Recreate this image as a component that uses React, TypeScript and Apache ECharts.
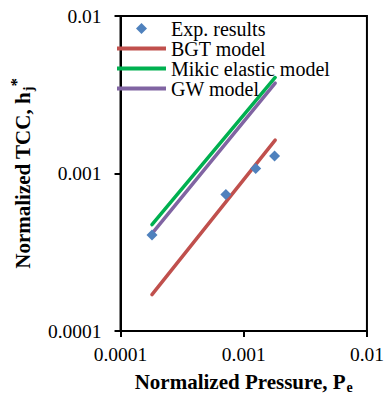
import React, { useEffect, useRef } from "react";
import * as echarts from "echarts";

const xTickLabels = ["0.0001", "0.001", "0.01"];
const yTickLabels = ["0.0001", "0.001", "0.01"];

const expPressure = [1.8e-4, 7.16e-4, 1.25e-3, 1.78e-3];
const expTCC = [4.07e-4, 7.35e-4, 1.076e-3, 1.29e-3];

const modelPressure = [1.8e-4, 1.8e-3];
const bgtTCC = [1.7e-4, 1.63e-3];
const mikicTCC = [4.74e-4, 4.07e-3];
const gwTCC = [4.15e-4, 3.75e-3];

const seriesNames = ["Exp. results", "BGT model", "Mikic elastic model", "GW model"];

const FONT = "'Liberation Serif', 'Times New Roman', serif";
const LINE_ICON = "path://M0,0 L49,0 L49,4 L0,4 Z";
const DIAMOND_ICON = "path://M5.5,0 L11,5.5 L5.5,11 L0,5.5 Z";

function pickLabel(labels: string[], v: number): string {
  let best = labels[0];
  let bd = Infinity;
  for (const l of labels) {
    const d = Math.abs(Math.log10(parseFloat(l)) - Math.log10(v));
    if (d < bd) {
      bd = d;
      best = l;
    }
  }
  return bd < 0.01 ? best : "";
}

const pairs = (xs: number[], ys: number[]) => xs.map((x, i) => [x, ys[i]]);

export default function App() {
  const ref = useRef<HTMLDivElement>(null);
  useEffect(() => {
    if (!ref.current) return;
    const chart = echarts.init(ref.current, null, { renderer: "svg" });
    const lineSeries = (name: string, ys: number[], color: string) => ({
      name,
      type: "line",
      data: pairs(modelPressure, ys),
      symbol: "none",
      showSymbol: false,
      lineStyle: { color, width: 3.5, cap: "round" },
      itemStyle: { color },
      z: 2,
    });
    chart.setOption({
      animation: false,
      backgroundColor: "#ffffff",
      grid: {
        left: 112,
        right: 16,
        top: 16,
        bottom: 70,
        show: true,
        borderColor: "#000",
        borderWidth: 2,
        backgroundColor: "transparent",
      },
      legend: {
        data: seriesNames.map((n, i) => ({ name: n, icon: i === 0 ? DIAMOND_ICON : LINE_ICON })),
        orient: "vertical",
        left: 117,
        top: 18.5,
        padding: 0,
        itemGap: 0,
        itemWidth: 49,
        itemHeight: 11,
        symbolKeepAspect: true,
        textStyle: { fontFamily: FONT, fontSize: 20, color: "#000", lineHeight: 19.3 },
      },
      xAxis: {
        type: "log",
        logBase: 10,
        min: 0.0001,
        max: 0.01,
        splitLine: { show: false },
        axisLine: { show: true, lineStyle: { color: "#000", width: 2 } },
        axisTick: { show: true, inside: false, length: 6, lineStyle: { color: "#000", width: 2 } },
        minorTick: { show: false },
        axisLabel: {
          margin: 13,
          fontFamily: FONT,
          fontSize: 19.5,
          color: "#000",
          formatter: (v: number) => pickLabel(xTickLabels, v),
        },
        name: "{a|Normalized Pressure, P}{b|e}",
        nameLocation: "middle",
        nameGap: 40,
        nameTextStyle: {
          rich: {
            a: { fontFamily: FONT, fontWeight: "bold", fontSize: 21, color: "#000", lineHeight: 21 },
            b: {
              fontFamily: FONT,
              fontWeight: "bold",
              fontSize: 14,
              color: "#000",
              lineHeight: 14,
              padding: [12, 0, 0, 1],
            },
          },
        },
      },
      yAxis: {
        type: "log",
        logBase: 10,
        min: 0.0001,
        max: 0.01,
        splitLine: { show: false },
        axisLine: { show: true, lineStyle: { color: "#000", width: 2 } },
        axisTick: { show: true, inside: false, length: 6, lineStyle: { color: "#000", width: 2 } },
        minorTick: { show: false },
        axisLabel: {
          margin: 19,
          fontFamily: FONT,
          fontSize: 19.5,
          color: "#000",
          formatter: (v: number) => pickLabel(yTickLabels, v),
        },
        name: "{a|Normalized TCC, h}{b|j}{c|*}",
        nameLocation: "middle",
        nameGap: 76,
        nameTextStyle: {
          rich: {
            a: { fontFamily: FONT, fontWeight: "bold", fontSize: 21, color: "#000", lineHeight: 21 },
            b: {
              fontFamily: FONT,
              fontWeight: "bold",
              fontSize: 14,
              color: "#000",
              lineHeight: 14,
              padding: [12, 0, 0, 1],
            },
            c: {
              fontFamily: FONT,
              fontWeight: "bold",
              fontSize: 17,
              color: "#000",
              lineHeight: 14,
              padding: [0, 0, 12, 0],
            },
          },
        },
      },
      series: [
        {
          name: seriesNames[0],
          type: "scatter",
          data: pairs(expPressure, expTCC),
          symbol: "diamond",
          symbolSize: 11,
          itemStyle: { color: "#4F81BD", opacity: 1 },
          z: 5,
        },
        lineSeries(seriesNames[1], bgtTCC, "#C0504D"),
        lineSeries(seriesNames[2], mikicTCC, "#00B050"),
        lineSeries(seriesNames[3], gwTCC, "#8064A2"),
      ],
    });
    return () => chart.dispose();
  }, []);
  return (
    <div
      ref={ref}
      style={{ position: "fixed", left: 0, top: 0, width: 387, height: 401, background: "#fff" }}
    />
  );
}
